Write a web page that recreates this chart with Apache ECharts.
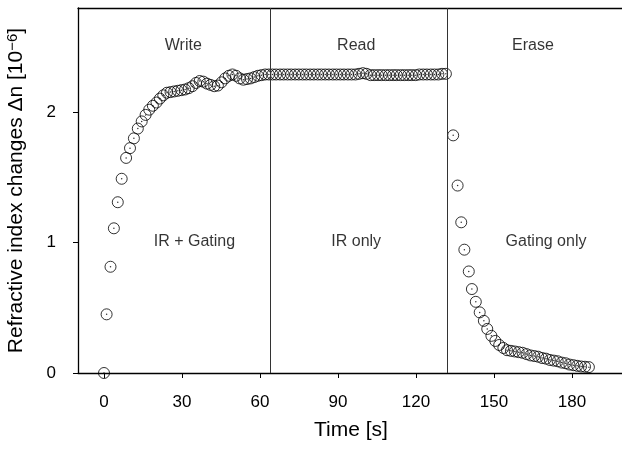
<!DOCTYPE html>
<html>
<head>
<meta charset="utf-8">
<script src="https://cdn.jsdelivr.net/npm/echarts@6/dist/echarts.min.js"></script>
<style>html,body{margin:0;padding:0;background:#fff}#c{width:622px;height:450px}</style>
</head>
<body>
<div id="c"></div>
<script>
// Write phase (IR + Gating)
var writeT = [0, 1.0, 2.5, 3.8, 5.3, 6.8, 8.5, 10.0, 11.5, 13.0, 14.5, 16.0, 17.4, 18.8, 20.2, 21.5, 22.8,
  24.2, 25.6, 27.0, 28.4, 29.8, 31.2, 32.6, 34.0, 35.4, 36.8, 38.2, 39.6, 41.0, 42.4, 43.8, 45.2, 46.6,
  48.0, 49.4, 50.8, 52.2, 53.6, 55.0, 56.4, 57.8, 59.2, 60.6, 62.0, 63.4];
var writeN = [0, 0.45, 0.815, 1.11, 1.31, 1.49, 1.65, 1.725, 1.80, 1.875, 1.93, 1.98, 2.02, 2.05, 2.075, 2.105, 2.13,
  2.15, 2.155, 2.16, 2.165, 2.17, 2.175, 2.185, 2.20, 2.225, 2.24, 2.235, 2.22, 2.21, 2.20, 2.205, 2.23, 2.26,
  2.28, 2.29, 2.28, 2.26, 2.25, 2.255, 2.26, 2.27, 2.28, 2.285, 2.29, 2.29];
// Read phase (IR only)
var readT = [64.8, 66.2, 67.7, 69.1, 70.6, 72.0, 73.5, 74.9, 76.4, 77.8, 79.3, 80.7, 82.2, 83.6, 85.1, 86.5,
  88.0, 89.4, 90.9, 92.3, 93.8, 95.2, 96.7, 98.1, 99.6, 101.0, 102.5, 103.9, 105.4, 106.8, 108.3, 109.7,
  111.2, 112.6, 114.1, 115.5, 117.0, 118.4, 119.9, 121.3, 122.8, 124.2, 125.7, 127.1, 128.6, 130.0, 131.5];
var readN = [2.29, 2.29, 2.29, 2.29, 2.29, 2.29, 2.29, 2.29, 2.29, 2.29, 2.29, 2.29, 2.29, 2.29, 2.29, 2.29,
  2.29, 2.29, 2.29, 2.29, 2.29, 2.29, 2.29, 2.295, 2.30, 2.295, 2.285, 2.285, 2.285, 2.285, 2.285, 2.285,
  2.285, 2.285, 2.285, 2.285, 2.285, 2.285, 2.285, 2.29, 2.29, 2.29, 2.29, 2.29, 2.29, 2.295, 2.295];
// Erase phase (Gating only)
var eraseT = [134.3, 136.0, 137.4, 138.6, 140.3, 141.5, 143.0, 144.5, 146.1, 147.4, 149.0, 150.5, 152.0, 153.6,
  155.0, 156.5, 158.0, 159.5, 161.0, 162.5, 164.0, 165.5, 167.0, 168.5, 170.0, 171.5, 173.0, 174.5, 176.0,
  177.5, 179.0, 180.5, 182.0, 183.5, 185.0, 186.5];
var eraseN = [1.823, 1.438, 1.156, 0.946, 0.779, 0.644, 0.546, 0.465, 0.40, 0.338, 0.285, 0.246, 0.215, 0.192,
  0.175, 0.17, 0.165, 0.16, 0.155, 0.145, 0.135, 0.13, 0.125, 0.115, 0.11, 0.10, 0.095, 0.09, 0.08,
  0.075, 0.065, 0.06, 0.055, 0.05, 0.048, 0.045];
// Phase boundaries
var boundaries = [64, 132.2];
// Tick labels
var xTicks = [0, 30, 60, 90, 120, 150, 180];
var yTicks = [0, 1, 2];
// Annotations
var annText = ['Write', 'Read', 'Erase', 'IR + Gating', 'IR only', 'Gating only'];
var annX = [30.5, 97, 165, 34.8, 97, 170];
var annY = [2.51, 2.51, 2.51, 1.01, 1.01, 1.01];

var pts = [];
function add(t, n) { for (var i = 0; i < t.length; i++) pts.push([t[i], n[i]]); }
add(writeT, writeN); add(readT, readN); add(eraseT, eraseN);
var ann = annText.map(function (s, i) { return { name: s, value: [annX[i], annY[i]] }; });

var FONT = '"Liberation Sans", Arial, Helvetica, sans-serif';
var chart = echarts.init(document.getElementById('c'), null, { renderer: 'canvas' });
chart.setOption({
  animation: false,
  backgroundColor: '#fff',
  textStyle: { fontFamily: FONT, color: '#000' },
  grid: { left: 78, top: 8, width: 546, height: 365, containLabel: false, outerBoundsMode: 'none' },
  xAxis: [{
    type: 'value', min: -10, max: 200, position: 'bottom',
    name: 'Time [s]', nameLocation: 'middle', nameGap: 47,
    nameTextStyle: { fontSize: 21, color: '#000', fontFamily: FONT },
    axisLine: { show: true, onZero: false, lineStyle: { color: '#000', width: 1.3 } },
    axisTick: { show: true, customValues: xTicks, length: 5, lineStyle: { color: '#000' } },
    axisLabel: { customValues: xTicks, fontSize: 17, color: '#000', margin: 21, fontFamily: FONT },
    splitLine: { show: false }
  }, {
    type: 'value', min: -10, max: 200, position: 'top',
    axisLine: { show: true, onZero: false, lineStyle: { color: '#000', width: 1.3 } },
    axisTick: { show: false }, axisLabel: { show: false }, splitLine: { show: false }
  }],
  yAxis: [{
    type: 'value', min: 0, max: 2.8, position: 'left',
    name: '{n|Refractive index changes \u0394n [10}{s|\u22126}{n|]}',
    nameLocation: 'middle', nameGap: 38, nameRotate: 90,
    nameTextStyle: {
      fontFamily: FONT, color: '#000',
      rich: {
        n: { fontSize: 21, fontFamily: FONT, color: '#000', lineHeight: 21, verticalAlign: 'bottom' },
        s: { fontSize: 15, fontFamily: FONT, color: '#000', lineHeight: 15, padding: [0, 0, 15, 0], verticalAlign: 'top' }
      }
    },
    axisLine: { show: true, onZero: false, lineStyle: { color: '#000', width: 1.3 } },
    axisTick: { show: true, customValues: yTicks, length: 5, lineStyle: { color: '#000' } },
    axisLabel: { customValues: yTicks, fontSize: 17, color: '#000', margin: 22, fontFamily: FONT },
    splitLine: { show: false }
  }],
  series: [{
    type: 'scatter', data: pts, symbol: 'circle', symbolSize: 11,
    itemStyle: { color: 'rgba(0,0,0,0)', borderColor: '#000', borderWidth: 1 },
    markLine: {
      silent: true, symbol: 'none', label: { show: false },
      lineStyle: { color: '#333', width: 1, type: 'solid' },
      data: boundaries.map(function (b) { return { xAxis: b }; })
    },
    z: 3
  }, {
    type: 'scatter', data: pts, symbol: 'circle', symbolSize: 1.5,
    itemStyle: { color: '#000' }, z: 4
  }, {
    type: 'scatter', data: ann, symbolSize: 0,
    label: {
      show: true, position: 'inside', formatter: '{b}',
      fontSize: 16, color: '#000', fontFamily: FONT
    },
    z: 5
  }]
});
</script>
</body>
</html>
